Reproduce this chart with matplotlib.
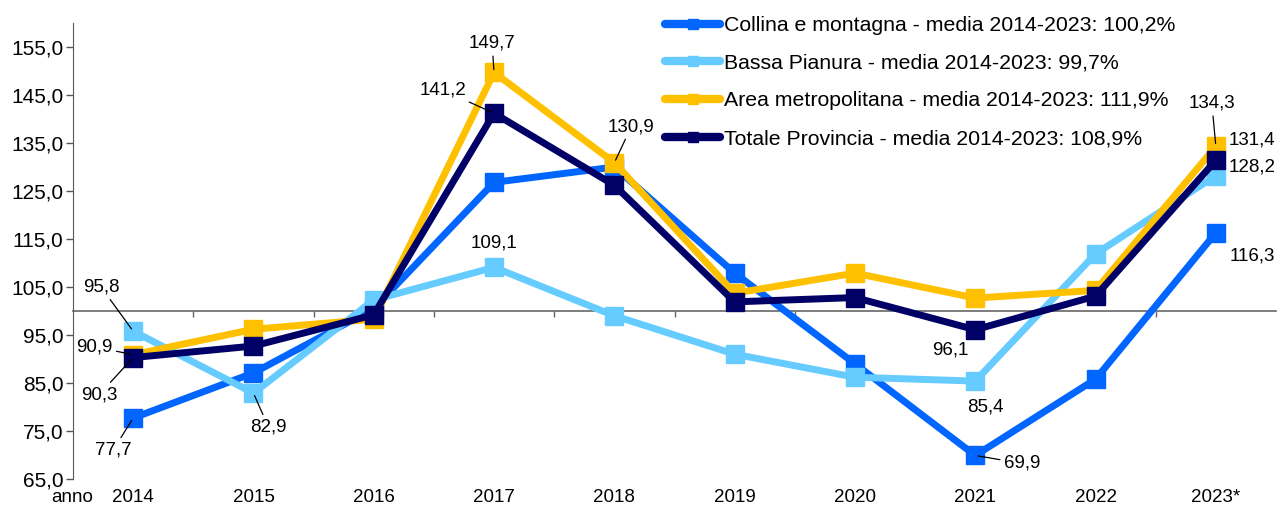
import matplotlib
matplotlib.use("Agg")
import matplotlib.pyplot as plt
from matplotlib.lines import Line2D
from matplotlib.ticker import FixedLocator, FuncFormatter

plt.rcParams['font.family'] = ['Liberation Sans', 'DejaVu Sans']

years = ['2014', '2015', '2016', '2017', '2018', '2019', '2020', '2021', '2022', '2023*']
collina = [77.7, 87.1, 100.5, 126.8, 130.0, 107.9, 89.0, 69.9, 85.8, 116.3]
bassa = [95.8, 82.9, 102.3, 109.1, 99.0, 91.0, 86.2, 85.4, 111.9, 128.2]
area = [90.9, 96.2, 98.3, 149.7, 130.9, 103.7, 107.9, 102.7, 104.3, 134.3]
totale = [90.3, 92.7, 99.2, 141.2, 126.2, 101.9, 102.8, 96.1, 103.1, 131.4]

labels = ['Collina e montagna - media 2014-2023: 100,2%',
          'Bassa Pianura - media 2014-2023: 99,7%',
          'Area metropolitana - media 2014-2023: 111,9%',
          'Totale Provincia - media 2014-2023: 108,9%']
colors = ['#0066FF', '#66CCFF', '#FFC000', '#000066']
series = [collina, bassa, area, totale]
yticks = [65, 75, 85, 95, 105, 115, 125, 135, 145, 155]

# (series index, year index, dx px, dy px, leader line)
annots = [
    (1, 0, -32, 44, True),
    (2, 0, -39, 8, True),
    (3, 0, -34, -37, True),
    (0, 0, -20, -32, True),
    (1, 1, 15, -34, True),
    (1, 3, 0, 24, False),
    (2, 3, -2, 29, True),
    (3, 3, -51, 23, True),
    (2, 4, 17, 36, True),
    (3, 7, -25, -20, False),
    (1, 7, 10, -26, False),
    (0, 7, 47, -8, True),
    (2, 9, -4, 43, True),
    (3, 9, 36, 20, False),
    (1, 9, 36, 9, False),
    (0, 9, 36, -23, False),
]

W, H = 1277, 509
fig = plt.figure(figsize=(W / 100, H / 100), dpi=100)
ax = fig.add_axes([73 / W, 1 - 479 / H, (1276 - 73) / W, (479 - 23) / H])

FS_TICK = 15
FS_LAB = 13.5
FS_LEG = 15.3
x = list(range(len(years)))
for s, c in zip(series, colors):
    ax.plot(x, s, color=c, lw=5, marker='s', ms=13.5, mec=c, mfc=c, zorder=3)

ax.set_xlim(-0.5, len(years) - 0.5)
ax.set_ylim(65, 160)
ax.yaxis.set_major_locator(FixedLocator(yticks))
ax.yaxis.set_major_formatter(FuncFormatter(lambda v, p: f"{v:.1f}".replace('.', ',')))
ax.tick_params(axis='y', direction='out', length=5, width=1, color='#595959',
               labelsize=FS_TICK, pad=2)

for sp in ['top', 'right']:
    ax.spines[sp].set_visible(False)
ax.spines['left'].set_color('#595959')
ax.spines['bottom'].set_position(('data', 100))
ax.spines['bottom'].set_color('#666666')
ax.spines['bottom'].set_linewidth(1.2)
ax.spines['bottom'].set_zorder(1)
ax.set_xticks([i + 0.5 for i in range(len(years) - 1)])
ax.tick_params(axis='x', direction='out', length=4, width=1, color='#666666',
               labelbottom=False)

sec = ax.secondary_xaxis(0)
sec.set_xticks(x)
sec.set_xticklabels(years)
sec.tick_params(length=0, labelsize=FS_LAB, pad=7.5)
sec.spines['bottom'].set_visible(False)

fig.text(93 / W, 1 - 497 / H, 'anno', ha='right', va='center', fontsize=FS_LAB)

for si, yi, dx, dy, lead in annots:
    v = series[si][yi]
    txt = f"{v:.1f}".replace('.', ',')
    ap = dict(arrowstyle='-', color='black', lw=0.9, shrinkA=1, shrinkB=2) if lead else None
    ax.annotate(txt, xy=(yi, v), xytext=(dx, dy), textcoords='offset pixels',
                ha='center', va='center', fontsize=FS_LAB, arrowprops=ap, zorder=5)

handles = [Line2D([0], [0], color=c, lw=6, marker='s', ms=7, mec=c, mfc=c,
                  solid_capstyle='round') for c in colors]
fig.legend(handles, labels, loc='upper left', bbox_to_anchor=(665 / W, 1 - 16 / H),
           frameon=False, fontsize=FS_LEG, handlelength=2.6, handletextpad=0.2,
           labelspacing=0.88, borderpad=0, borderaxespad=0)

fig.savefig('out.png', dpi=100)
